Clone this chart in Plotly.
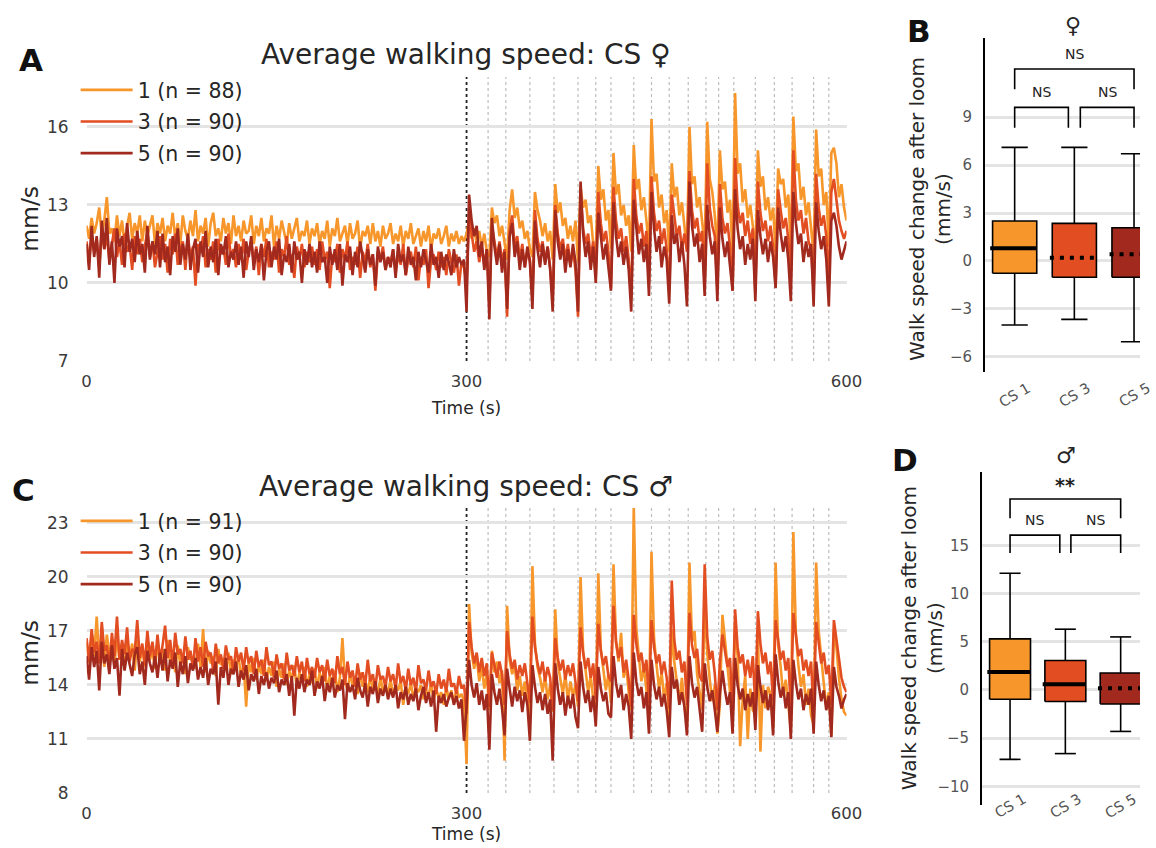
import plotly.graph_objects as go

# The page is laid out by the browser at its inner viewport size; positions below are
# reference-pixel positions converted to paper fractions of that viewport.
VW, VH = 1141, 838
FONT = "DejaVu Sans"

# ---------------- data ----------------
time_s = list(range(0, 601, 2))
loom_onset = 300
loom_times = [317, 331, 350, 369, 388, 402, 414, 432, 446, 460,
              475, 489, 499, 511, 528, 543, 557, 574, 586]

fem_names = ["1 (n = 88)", "3 (n = 90)", "5 (n = 90)"]
male_names = ["1 (n = 91)", "3 (n = 90)", "5 (n = 90)"]

fem_cs1 = [
    12.2, 11.7, 12.5, 11.9, 12.3, 12.9, 11.8, 12.4, 13.3, 11.9, 12.1, 11.6, 12.6, 11.8, 12.4, 11.5, 12.2, 12.7, 11.7, 12.3, 11.9, 12.6, 11.6, 12.4, 11.8, 12.2, 12.6, 11.5, 12.3, 11.9,
    12.5, 11.6, 12.2, 11.9, 12.7, 11.7, 12.3, 11.5, 12.6, 12.0, 11.7, 12.4, 11.8, 12.8, 11.6, 12.2, 11.9, 12.5, 11.4, 12.3, 12.7, 11.8, 12.1, 11.6, 12.5, 11.9, 12.3, 11.5, 12.6, 11.8,
    12.2, 11.6, 12.4, 11.9, 12.0, 12.6, 11.5, 12.2, 11.8, 12.5, 11.6, 12.1, 11.9, 12.6, 11.4, 12.2, 11.7, 12.4, 11.9, 11.5, 12.3, 11.7, 12.1, 12.5, 11.6, 12.0, 11.8, 12.4, 11.5, 12.1,
    11.8, 12.3, 11.5, 12.0, 11.7, 12.4, 11.4, 12.1, 11.8, 12.5, 11.6, 11.9, 12.2, 11.5, 12.3, 11.7, 11.9, 12.4, 11.3, 12.0, 11.8, 12.2, 11.5, 12.3, 11.6, 12.0, 11.4, 12.2, 11.7, 11.9,
    12.3, 11.5, 11.9, 11.6, 12.2, 11.4, 12.0, 11.7, 12.3, 11.5, 11.8, 12.1, 11.4, 12.0, 11.6, 12.2, 11.3, 11.9, 11.7, 12.1, 11.5, 11.8, 12.2, 11.4, 11.9, 11.6, 12.0, 11.5, 11.8, 11.6,
    11.9, 12.4, 11.7, 12.1, 11.5, 12.0, 11.4, 11.9, 11.2, 11.0, 12.9, 12.3, 12.6, 11.8, 12.2, 11.6, 10.9, 12.8, 13.6, 12.5, 12.9, 12.1, 12.4, 11.7, 12.0, 11.3, 11.0, 13.5, 12.8, 12.4,
    11.8, 12.3, 11.6, 12.0, 10.9, 13.8, 12.7, 13.1, 12.2, 12.5, 11.7, 12.2, 11.6, 12.4, 10.8, 13.7, 12.9, 13.2, 12.3, 12.6, 11.5, 11.1, 14.5, 13.2, 13.6, 12.4, 12.8, 11.3, 15.0, 13.4,
    13.8, 12.6, 13.0, 12.2, 12.6, 11.2, 15.3, 13.6, 14.0, 12.8, 13.3, 12.4, 11.4, 16.3, 13.9, 14.2, 12.9, 13.4, 12.3, 12.8, 11.2, 14.6, 13.3, 13.7, 12.6, 13.1, 12.2, 11.3, 16.0, 13.8,
    14.1, 12.9, 13.3, 12.3, 11.4, 16.2, 14.0, 13.5, 12.6, 11.2, 15.1, 13.6, 13.9, 12.7, 13.2, 11.1, 17.3, 14.2, 14.6, 13.1, 13.6, 12.5, 13.0, 12.2, 11.0, 15.1, 13.7, 14.1, 12.8, 13.3,
    12.4, 12.9, 11.2, 14.4, 13.8, 14.0, 12.9, 13.4, 11.3, 16.4, 14.3, 14.6, 13.2, 13.7, 12.6, 13.1, 12.2, 11.1, 15.9, 14.1, 14.4, 13.0, 13.5, 11.4, 15.0, 15.2, 14.6, 13.3, 13.8, 12.9,
    12.4,
]
fem_cs3 = [
    11.6, 10.8, 11.9, 11.2, 11.7, 10.6, 12.0, 11.3, 11.8, 10.9, 11.5, 12.1, 11.0, 11.6, 10.7, 11.9, 11.2, 11.5, 10.5, 11.8, 11.1, 11.7, 10.8, 11.4, 12.0, 11.0, 11.6, 10.6, 11.3, 11.8,
    10.9, 11.5, 10.4, 11.7, 11.1, 11.9, 10.7, 11.3, 11.6, 10.5, 11.8, 11.0, 11.4, 9.9, 11.5, 11.2, 11.8, 10.6, 11.3, 10.9, 11.6, 10.4, 11.7, 11.1, 11.4, 10.7, 11.9, 11.0, 11.3, 10.6,
    11.5, 10.9, 11.7, 10.5, 11.2, 11.6, 10.8, 11.4, 10.3, 11.5, 11.0, 11.7, 10.6, 11.2, 10.9, 11.6, 10.4, 11.3, 11.0, 11.8, 10.7, 11.1, 10.2, 11.4, 10.9, 11.5, 10.6, 11.2, 10.8, 11.4,
    10.7, 11.3, 10.5, 11.6, 10.9, 11.2, 9.8, 11.1, 10.8, 11.5, 10.4, 11.3, 10.9, 11.6, 10.5, 11.0, 10.7, 11.4, 10.2, 11.2, 10.8, 11.5, 10.6, 11.1, 9.7, 11.2, 10.9, 11.4, 10.5, 11.0,
    10.8, 11.3, 10.4, 11.1, 10.7, 11.5, 10.3, 10.9, 11.2, 10.6, 11.4, 10.1, 11.0, 10.7, 11.3, 9.8, 10.9, 11.1, 10.5, 11.2, 10.6, 11.0, 10.3, 11.3, 10.8, 10.4, 11.1, 9.9, 10.8, 10.6,
    10.0, 12.6, 11.9, 11.2, 11.6, 10.8, 11.4, 10.7, 11.3, 9.2, 12.2, 11.5, 11.0, 11.6, 10.8, 11.3, 8.7, 12.0, 12.6, 11.4, 11.8, 10.9, 11.5, 10.6, 11.2, 10.9, 9.5, 12.8, 11.7, 11.2,
    11.6, 10.8, 11.4, 10.6, 9.4, 13.0, 11.9, 11.3, 11.7, 10.9, 11.5, 10.7, 11.3, 10.5, 8.7, 13.4, 12.1, 11.5, 11.9, 11.0, 11.6, 10.2, 13.5, 12.3, 11.6, 12.0, 11.2, 9.8, 13.7, 12.4,
    11.7, 12.1, 11.2, 11.8, 10.9, 9.4, 14.0, 12.6, 11.9, 12.3, 11.4, 12.0, 10.0, 14.1, 12.7, 12.0, 12.4, 11.5, 12.1, 11.3, 9.7, 13.4, 12.5, 11.8, 12.2, 11.3, 11.9, 11.2, 14.3, 12.8,
    12.1, 12.5, 11.6, 12.0, 9.9, 14.6, 12.9, 12.2, 11.8, 9.8, 13.8, 12.5, 11.9, 12.3, 11.4, 9.7, 14.8, 13.0, 12.3, 12.7, 11.8, 12.4, 11.5, 12.1, 9.6, 13.9, 12.7, 12.0, 12.4, 11.6,
    12.2, 11.4, 9.9, 13.6, 12.8, 12.1, 12.5, 11.7, 10.4, 15.1, 13.2, 12.4, 12.8, 11.9, 12.5, 11.6, 11.3, 9.7, 14.2, 12.9, 12.2, 12.6, 11.8, 9.9, 13.5, 14.0, 13.2, 12.4, 12.0, 11.7,
    12.0,
]
fem_cs5 = [
    11.5, 10.5, 12.2, 11.0, 11.8, 10.2, 12.4, 11.3, 12.5, 10.7, 11.6, 10.0, 12.1, 11.4, 11.8, 10.6, 12.3, 11.2, 11.7, 10.8, 12.0, 11.1, 11.5, 10.4, 12.2, 10.9, 11.6, 11.1, 12.0, 10.6,
    11.9, 10.8, 11.4, 10.3, 11.8, 11.2, 12.1, 10.7, 11.5, 10.9, 11.9, 10.5, 11.3, 11.7, 10.4, 11.6, 11.0, 12.0, 10.6, 11.4, 10.8, 11.7, 10.3, 11.5, 11.1, 11.8, 10.6, 11.2, 10.9, 11.6,
    10.7, 11.4, 10.2, 11.6, 11.0, 11.8, 10.5, 11.3, 10.8, 11.5, 10.1, 11.2, 11.6, 10.6, 11.4, 10.9, 11.7, 10.3, 11.1, 10.8, 11.5, 10.4, 11.6, 10.9, 11.2, 10.0, 11.3, 10.7, 11.5, 10.6,
    11.2, 10.4, 11.6, 10.8, 11.0, 10.0, 11.4, 10.7, 11.3, 10.5, 11.5, 9.9, 11.1, 10.8, 11.4, 10.3, 11.2, 10.6, 11.6, 10.9, 10.4, 11.3, 10.7, 11.1, 9.9, 11.4, 10.8, 11.2, 10.5, 11.0,
    10.6, 11.3, 10.2, 11.5, 10.8, 11.1, 10.3, 11.4, 10.7, 11.0, 10.1, 11.2, 10.6, 11.3, 10.9, 10.4, 11.5, 10.7, 11.0, 10.2, 11.2, 10.5, 11.1, 10.8, 10.3, 11.3, 10.6, 11.0, 10.7, 10.9,
    8.9, 13.4, 12.4, 11.8, 12.2, 11.0, 11.6, 10.5, 11.3, 8.6, 12.5, 11.4, 10.7, 11.5, 10.4, 11.2, 9.0, 11.8, 12.3, 11.0, 11.6, 10.5, 11.3, 10.6, 11.4, 10.8, 9.0, 12.4, 11.3, 10.6,
    11.5, 10.7, 11.4, 10.5, 8.9, 12.8, 11.6, 10.9, 11.5, 10.4, 11.3, 10.6, 11.5, 10.8, 8.9, 13.9, 11.9, 11.0, 11.6, 10.5, 11.4, 10.0, 12.7, 11.7, 10.9, 11.5, 10.6, 9.7, 13.1, 11.8,
    11.0, 11.6, 10.7, 11.4, 10.5, 8.9, 13.2, 12.0, 11.1, 11.7, 10.8, 11.5, 9.5, 13.5, 12.1, 11.2, 11.8, 10.6, 11.4, 10.9, 9.2, 12.6, 11.5, 11.9, 10.8, 11.6, 10.7, 9.1, 13.9, 12.2,
    11.4, 11.9, 10.8, 11.5, 9.5, 13.0, 11.8, 11.1, 11.6, 9.3, 12.9, 11.7, 11.0, 11.6, 10.7, 9.7, 13.6, 12.1, 11.3, 11.8, 10.7, 11.5, 10.9, 11.7, 9.3, 12.8, 11.8, 11.1, 11.7, 10.8,
    11.6, 11.0, 9.8, 12.9, 11.9, 11.2, 11.8, 10.9, 9.3, 13.5, 12.3, 11.5, 11.9, 10.8, 11.6, 11.0, 11.5, 9.1, 13.1, 12.0, 11.3, 11.8, 10.9, 9.1, 12.4, 12.7, 12.2, 11.4, 10.9, 11.3,
    11.6,
]

male_cs1 = [
    16.4, 15.2, 16.9, 15.6, 17.8, 15.3, 16.5, 15.0, 16.8, 15.7, 16.2, 15.1, 16.7, 15.4, 16.0, 14.9, 16.6, 15.5, 16.3, 14.8, 16.5, 15.3, 16.1, 15.0, 16.6, 15.4, 15.9, 14.9, 16.4, 15.2,
    16.0, 14.8, 16.5, 15.3, 15.8, 14.7, 16.2, 15.1, 15.7, 14.6, 16.1, 15.4, 15.6, 14.9, 16.3, 15.0, 17.1, 14.7, 15.9, 15.2, 15.6, 14.5, 16.0, 15.1, 15.5, 14.8, 15.8, 14.6, 15.4, 15.0,
    15.6, 14.4, 15.2, 12.8, 15.3, 14.7, 15.5, 14.3, 15.1, 14.6, 15.4, 14.2, 15.0, 14.5, 15.3, 13.9, 14.9, 14.4, 15.2, 14.0, 14.8, 14.3, 15.1, 13.8, 14.7, 14.2, 15.0, 13.9, 14.6, 14.1,
    14.9, 13.8, 14.7, 14.2, 15.0, 13.7, 14.5, 14.1, 14.8, 13.6, 14.4, 16.6, 14.2, 13.7, 14.6, 14.0, 14.3, 13.5, 14.7, 13.9, 14.2, 13.6, 14.5, 13.8, 14.1, 13.4, 14.4, 13.7, 14.0, 13.5,
    14.3, 13.4, 14.0, 13.7, 14.2, 12.9, 13.9, 13.5, 14.1, 13.3, 13.8, 13.6, 14.0, 13.2, 13.7, 13.4, 14.1, 13.1, 13.8, 13.3, 13.6, 12.9, 13.9, 13.2, 13.7, 13.0, 13.8, 13.3, 13.5, 13.1,
    9.6, 18.5, 15.8, 14.9, 15.6, 14.2, 15.0, 13.8, 14.6, 12.6, 15.9, 14.7, 15.3, 14.1, 14.8, 9.8, 18.4, 15.4, 14.6, 15.1, 13.7, 14.5, 13.4, 14.2, 13.1, 12.4, 20.6, 16.3, 15.0, 14.4,
    13.6, 14.5, 13.2, 14.0, 12.5, 18.2, 15.2, 14.3, 13.5, 14.6, 13.1, 14.2, 13.4, 14.0, 12.8, 20.0, 15.9, 14.8, 13.6, 14.5, 13.2, 12.9, 20.2, 16.0, 14.9, 13.7, 14.6, 13.0, 20.7, 16.4,
    15.3, 16.9, 14.4, 15.1, 13.6, 12.6, 23.9, 17.2, 15.6, 14.2, 15.0, 13.5, 12.4, 21.4, 16.6, 15.1, 13.8, 14.7, 13.2, 14.1, 12.1, 17.1, 15.3, 14.2, 13.0, 14.4, 12.8, 11.9, 20.8, 16.4,
    17.0, 14.6, 13.5, 12.6, 18.6, 15.8, 14.3, 13.1, 14.0, 11.3, 12.9, 17.9, 16.5, 14.8, 13.6, 12.2, 17.4, 15.6, 10.6, 13.2, 14.5, 11.0, 13.8, 12.6, 12.4, 17.0, 10.3, 14.0, 12.7, 13.9,
    13.5, 11.6, 20.8, 16.2, 15.0, 13.4, 14.3, 12.9, 11.5, 22.5, 16.8, 15.1, 13.9, 14.6, 12.9, 13.8, 12.3, 11.8, 20.8, 17.0, 15.3, 14.1, 12.8, 13.6, 11.2, 17.0, 16.1, 14.4, 13.2, 12.5,
    12.3,
]
male_cs3 = [
    16.6, 15.3, 17.1, 15.8, 16.4, 15.2, 17.5, 15.9, 16.2, 15.0, 16.9, 15.6, 17.8, 15.4, 16.5, 15.7, 17.2, 15.3, 16.0, 15.8, 17.6, 15.5, 16.3, 15.1, 17.0, 15.6, 16.4, 15.2, 16.8, 15.4,
    16.2, 17.3, 15.5, 16.5, 15.1, 16.9, 15.7, 16.0, 15.2, 16.7, 15.4, 15.9, 14.9, 16.6, 15.3, 16.1, 15.0, 16.4, 15.6, 15.8, 14.8, 16.3, 15.2, 15.7, 14.9, 16.2, 15.4, 15.6, 14.7, 16.1,
    15.3, 15.8, 14.8, 16.1, 15.2, 15.6, 14.6, 15.9, 15.0, 15.4, 14.5, 16.1, 15.1, 15.3, 14.4, 15.7, 14.9, 15.2, 14.3, 15.8, 14.8, 15.1, 14.5, 15.6, 14.7, 15.3, 14.2, 15.5, 14.6, 15.0,
    14.4, 15.5, 14.7, 15.1, 14.2, 15.4, 14.5, 14.9, 14.1, 15.6, 14.6, 15.0, 14.0, 15.3, 14.4, 14.8, 13.9, 15.2, 14.3, 14.7, 14.0, 15.4, 14.2, 14.6, 13.8, 15.1, 14.3, 14.5, 13.9, 15.0,
    14.2, 14.6, 13.8, 15.2, 14.1, 14.5, 13.7, 14.9, 14.0, 14.4, 13.6, 15.1, 14.1, 14.3, 13.7, 14.8, 13.9, 14.2, 13.5, 14.6, 13.8, 14.3, 13.6, 14.9, 13.9, 14.1, 13.5, 14.5, 13.8, 14.0,
    12.4, 17.5, 16.1, 15.2, 15.8, 14.7, 15.5, 14.5, 15.2, 12.8, 15.8, 15.0, 14.4, 15.3, 14.6, 12.9, 17.0, 15.7, 14.9, 15.4, 14.3, 15.1, 14.5, 15.2, 14.0, 13.0, 17.8, 16.1, 15.2, 14.6,
    15.3, 14.2, 15.0, 14.4, 12.6, 16.6, 15.5, 14.8, 15.4, 14.3, 15.1, 14.5, 15.2, 14.1, 13.1, 17.2, 15.8, 14.9, 15.5, 14.4, 15.2, 13.2, 17.4, 15.9, 15.1, 15.6, 14.5, 14.2, 18.4, 16.4,
    15.5, 16.1, 14.7, 15.4, 14.3, 12.8, 17.9, 16.3, 15.3, 15.8, 14.7, 15.4, 13.0, 17.6, 16.1, 15.2, 15.7, 14.6, 15.3, 14.4, 12.7, 19.8, 16.5, 15.4, 15.9, 14.7, 15.3, 12.9, 18.0, 16.2,
    15.5, 16.0, 14.5, 14.2, 20.7, 16.7, 15.4, 15.9, 14.6, 12.6, 15.3, 16.8, 15.8, 15.0, 15.5, 12.5, 18.2, 16.1, 15.2, 15.7, 14.5, 15.4, 14.4, 15.6, 12.8, 18.1, 16.3, 15.2, 15.8, 14.6,
    15.3, 13.1, 17.6, 16.4, 15.4, 15.9, 14.8, 15.5, 12.6, 18.0, 16.6, 15.6, 16.0, 14.8, 15.4, 14.5, 15.3, 12.4, 17.5, 16.3, 15.2, 15.8, 14.6, 15.1, 12.9, 17.6, 16.5, 15.2, 14.4, 13.9,
    13.6,
]
male_cs5 = [
    15.6, 14.3, 16.1, 15.0, 15.9, 13.7, 16.4, 15.2, 15.7, 14.6, 16.2, 14.9, 15.5, 13.4, 16.0, 14.8, 15.8, 15.1, 14.5, 15.7, 16.1, 14.6, 15.3, 14.0, 15.9, 15.2, 14.7, 15.6, 14.4, 15.8,
    14.8, 16.0, 14.2, 15.4, 14.9, 15.8, 13.9, 15.3, 14.6, 15.6, 14.1, 15.2, 14.8, 15.5, 14.3, 15.0, 14.4, 15.5, 14.0, 14.9, 14.6, 15.3, 12.9, 15.0, 14.4, 15.5, 14.0, 14.9, 14.6, 15.3,
    13.9, 14.8, 14.3, 15.1, 13.7, 14.6, 14.2, 14.9, 13.5, 14.5, 14.0, 14.7, 13.8, 14.4, 14.1, 14.8, 13.6, 14.3, 14.0, 14.6, 13.4, 14.5, 12.3, 14.4, 13.8, 14.6, 13.6, 14.3, 14.0, 14.8,
    13.4, 14.2, 13.8, 14.5, 13.1, 14.1, 13.6, 14.4, 13.3, 14.0, 13.7, 14.3, 12.1, 14.1, 13.6, 14.0, 13.2, 14.4, 13.7, 13.3, 14.1, 12.8, 13.9, 13.5, 14.2, 13.0, 13.8, 13.4, 14.0, 13.2,
    13.8, 13.3, 14.0, 12.7, 13.6, 13.2, 13.9, 12.9, 13.5, 13.1, 13.8, 12.6, 13.4, 13.9, 13.0, 13.6, 12.8, 13.7, 11.4, 13.4, 13.0, 13.5, 12.8, 13.3, 13.6, 12.9, 13.4, 12.7, 13.2, 10.9,
    12.8, 15.4, 14.0, 13.3, 14.1, 12.9, 13.7, 12.6, 13.5, 10.4, 14.6, 13.6, 12.9, 13.8, 12.7, 11.2, 14.9, 13.8, 12.8, 13.9, 13.1, 13.7, 12.5, 13.6, 12.9, 10.9, 15.1, 13.9, 13.0, 13.6,
    12.6, 13.5, 12.4, 13.2, 9.8, 15.2, 13.8, 12.9, 13.6, 12.3, 13.4, 12.7, 13.5, 12.2, 11.6, 15.3, 13.9, 13.0, 13.7, 12.5, 13.4, 11.7, 15.0, 13.8, 13.1, 13.6, 12.4, 12.2, 15.6, 14.1,
    13.3, 14.0, 12.6, 13.5, 12.8, 11.0, 15.8, 14.2, 13.4, 13.9, 12.7, 13.6, 11.3, 15.4, 14.0, 13.2, 13.9, 12.8, 13.5, 12.6, 11.1, 15.0, 13.8, 14.3, 12.9, 13.6, 12.8, 11.2, 15.6, 14.1,
    13.3, 13.9, 12.5, 11.4, 15.2, 13.9, 13.1, 13.7, 12.6, 11.4, 13.5, 14.8, 13.7, 12.9, 13.6, 11.3, 15.5, 14.0, 13.2, 13.8, 12.6, 13.5, 12.8, 13.6, 11.5, 15.1, 13.9, 13.0, 13.7, 12.6,
    13.5, 11.2, 15.7, 14.2, 13.3, 13.9, 12.7, 13.6, 11.0, 15.4, 14.1, 13.2, 13.8, 12.6, 13.5, 12.9, 13.8, 11.3, 15.3, 14.0, 13.1, 13.7, 12.6, 13.4, 11.1, 15.0, 13.9, 13.4, 12.7, 13.2,
    13.5,
]

for s in (fem_cs1, fem_cs3, fem_cs5, male_cs1, male_cs3, male_cs5):
    assert len(s) == len(time_s), len(s)

box_groups = ["CS 1", "CS 3", "CS 5"]
fem_lo = [-4.0, -3.65, -5.05]
fem_q1 = [-0.77, -1.02, -1.02]
fem_med = [0.79, 0.2, 0.42]
fem_q3 = [2.5, 2.35, 2.08]
fem_hi = [7.1, 7.1, 6.7]
male_lo = [-7.2, -6.6, -4.3]
male_q1 = [-0.97, -1.2, -1.45]
male_med = [1.85, 0.6, 0.17]
male_q3 = [5.3, 3.05, 1.75]
male_hi = [12.1, 6.3, 5.5]
sig_pairs = [(0, 1), (1, 2), (0, 2)]
fem_sig = ["NS", "NS", "NS"]
male_sig = ["NS", "NS", "**"]

# ---------------- style ----------------
line_colors = ["#F7962B", "#E24D22", "#A1291E"]
fem_median_dash = ["solid", "4px,6px", "4px,6px"]
male_median_dash = ["solid", "solid", "4px,6px"]
GRID = "#e4e4e4"
TICK = "#3a3a3a"


def xp(p):
    return min(p / VW, 1.0)


def yp(p):
    return max(1 - p / VH, 0.0)


fig = go.Figure()

# time series
for names, series, xa, ya, lg in [
    (fem_names, [fem_cs1, fem_cs3, fem_cs5], "x", "y", "legend"),
    (male_names, [male_cs1, male_cs3, male_cs5], "x2", "y2", "legend2"),
]:
    for name, ys, col in zip(names, series, line_colors):
        fig.add_trace(go.Scatter(
            x=time_s, y=ys, mode="lines", name=name,
            line=dict(color=col, width=2.6),
            xaxis=xa, yaxis=ya, legend=lg, legendgroup=lg + name, hoverinfo="skip"))

# loom markers
for xa, ya in [("x", "y"), ("x2", "y2")]:
    for t in loom_times:
        fig.add_shape(type="line", xref=xa, yref=ya + " domain", x0=t, x1=t, y0=0, y1=1,
                      line=dict(color="#bdbdbd", width=1.2, dash="dot"), layer="below")
    fig.add_shape(type="line", xref=xa, yref=ya + " domain", x0=loom_onset, x1=loom_onset, y0=0, y1=1,
                  line=dict(color="#222222", width=1.8, dash="dot"), layer="below")


def box_panel(xa, ya, lo, q1, med, q3, hi, dashes, sig, sig_levels, half_w, cap_w):
    for i in range(len(box_groups)):
        c = i
        fig.add_trace(go.Scatter(
            x=[c - half_w, c + half_w, c + half_w, c - half_w, c - half_w],
            y=[q1[i], q1[i], q3[i], q3[i], q1[i]], mode="lines", fill="toself",
            fillcolor=line_colors[i], line=dict(color="black", width=1.6),
            xaxis=xa, yaxis=ya, showlegend=False, hoverinfo="skip"))
        fig.add_trace(go.Scatter(
            x=[c, c, None, c, c], y=[q3[i], hi[i], None, q1[i], lo[i]], mode="lines",
            line=dict(color="black", width=1.6), xaxis=xa, yaxis=ya,
            showlegend=False, hoverinfo="skip"))
        fig.add_trace(go.Scatter(
            x=[c - cap_w, c + cap_w, None, c - cap_w, c + cap_w],
            y=[hi[i], hi[i], None, lo[i], lo[i]], mode="lines",
            line=dict(color="black", width=1.6), xaxis=xa, yaxis=ya,
            showlegend=False, hoverinfo="skip"))
        fig.add_trace(go.Scatter(
            x=[c - half_w - 0.04, c + half_w], y=[med[i], med[i]], mode="lines",
            line=dict(color="black", width=4, dash=dashes[i]), xaxis=xa, yaxis=ya,
            showlegend=False, hoverinfo="skip"))
    for (a, b), label, (ylow, yhigh) in zip(sig_pairs, sig, sig_levels):
        xa0 = a if a == 0 or (a, b) == (0, 2) else a + 0.1
        xb0 = b if b == 2 else b - 0.1
        fig.add_trace(go.Scatter(
            x=[xa0, xa0, xb0, xb0], y=[ylow, yhigh, yhigh, ylow], mode="lines",
            line=dict(color="black", width=1.6), xaxis=xa, yaxis=ya,
            showlegend=False, hoverinfo="skip"))
        star = label != "NS"
        fig.add_annotation(x=(xa0 + xb0) / 2, y=yhigh, xref=xa, yref=ya,
                           text="<b>%s</b>" % label if star else label,
                           showarrow=False, yanchor="bottom", yshift=1 if star else 5,
                           font=dict(family=FONT, size=19 if star else 14, color="#222222"))


box_panel("x3", "y3", fem_lo, fem_q1, fem_med, fem_q3, fem_hi, fem_median_dash, fem_sig,
          [(8.33, 9.6), (8.33, 9.6), (10.73, 12.0)], 0.37, 0.22)
box_panel("x4", "y4", male_lo, male_q1, male_med, male_q3, male_hi, male_median_dash, male_sig,
          [(14.2, 16.05), (14.2, 16.05), (17.8, 19.8)], 0.37, 0.19)

# category labels
for xa, ypx in [("x3", 395), ("x4", 824)]:
    for i, g in enumerate(box_groups):
        fig.add_annotation(x=i, y=yp(ypx), xref=xa, yref="paper", text=g, showarrow=False,
                           textangle=-30, font=dict(family=FONT, size=14.5, color="#555555"))

# titles / labels
texts = [
    ("<b>A</b>", 26, 60, 31, 0, "#111111"),
    ("<b>B</b>", 919, 31, 31, 0, "#111111"),
    ("<b>C</b>", 19, 490, 31, 0, "#111111"),
    ("<b>D</b>", 905, 460, 31, 0, "#111111"),
    ("Average walking speed: CS ♀", 463, 55, 28, 0, "#262626"),
    ("Average walking speed: CS ♂", 463, 486, 28, 0, "#262626"),
    ("♀", 1074, 25, 22, 0, "#262626"),
    ("♂", 1067, 455, 22, 0, "#262626"),
    ("mm/s", 25, 219, 23.5, -90, "#262626"),
    ("mm/s", 25, 653, 23.5, -90, "#262626"),
    ("Time (s)", 463, 408, 17, 0, "#262626"),
    ("Time (s)", 463, 834, 17, 0, "#262626"),
    ("Walk speed change after loom<br>(mm/s)", 930, 209, 20, -90, "#262626"),
    ("Walk speed change after loom<br>(mm/s)", 922, 638, 20, -90, "#262626"),
]
for txt, x, y, s, ang, col in texts:
    fig.add_annotation(x=xp(x), y=yp(y), xref="paper", yref="paper", text=txt, showarrow=False,
                       textangle=ang, xanchor="center", yanchor="middle",
                       font=dict(family=FONT, size=s, color=col))

ts_x = dict(range=[0, 600], tickvals=[0, 300, 600], showgrid=False, zeroline=False, showline=False,
            ticks="", ticklabelstandoff=8, tickfont=dict(family=FONT, size=16.5, color=TICK))
ts_y = dict(showgrid=True, gridcolor=GRID, gridwidth=2.5, zeroline=False, showline=False, ticks="",
            ticklabelstandoff=17, tickfont=dict(family=FONT, size=17, color=TICK))
bx_x = dict(showgrid=False, zeroline=False, showline=False, showticklabels=False, ticks="")
bx_y = dict(showgrid=True, gridcolor=GRID, gridwidth=2.5, zeroline=False, showline=True,
            linecolor="black", linewidth=1.6, ticks="", ticklabelstandoff=8,
            tickfont=dict(family=FONT, size=15, color="#555555"))

legend_common = dict(xanchor="left", yanchor="top", bgcolor="rgba(0,0,0,0)", tracegroupgap=2,
                     font=dict(family=FONT, size=20.5, color="#262626"), itemwidth=52)

# box-panel x ranges follow their category spacing (60 px and 55.6 px per category)
b_right = -0.5 + (min(VW, 1156) - 985) / 60.0
d_right = -0.51 + (min(VW, 1150) - 982) / 55.6

fig.update_layout(
    autosize=True, margin=dict(l=0, r=0, t=0, b=0),
    paper_bgcolor="white", plot_bgcolor="white",
    font=dict(family=FONT),
    xaxis=dict(domain=[xp(82), xp(846)], anchor="y", **ts_x),
    yaxis=dict(domain=[yp(361), yp(77)], anchor="x", range=[7, 17.92], tickvals=[7, 10, 13, 16], **ts_y),
    xaxis2=dict(domain=[xp(82), xp(846)], anchor="y2", **ts_x),
    yaxis2=dict(domain=[yp(793), yp(508)], anchor="x2", range=[8, 23.83],
                tickvals=[8, 11, 14, 17, 20, 23], **ts_y),
    xaxis3=dict(domain=[xp(985), xp(1156)], anchor="y3", range=[-0.5, b_right], **bx_x),
    yaxis3=dict(domain=[yp(372), yp(38)], anchor="x3", range=[-6.94, 13.94],
                tickvals=[-6, -3, 0, 3, 6, 9], **bx_y),
    xaxis4=dict(domain=[xp(982), xp(1150)], anchor="y4", range=[-0.51, d_right], **bx_x),
    yaxis4=dict(domain=[yp(805), yp(472)], anchor="x4", range=[-11.93, 22.6],
                tickvals=[-10, -5, 0, 5, 10, 15], **bx_y),
    legend=dict(x=xp(71), y=yp(70), **legend_common),
    legend2=dict(x=xp(71), y=yp(501), **legend_common),
)

fig.write_html("out.html", default_width="100%", default_height="100%")
